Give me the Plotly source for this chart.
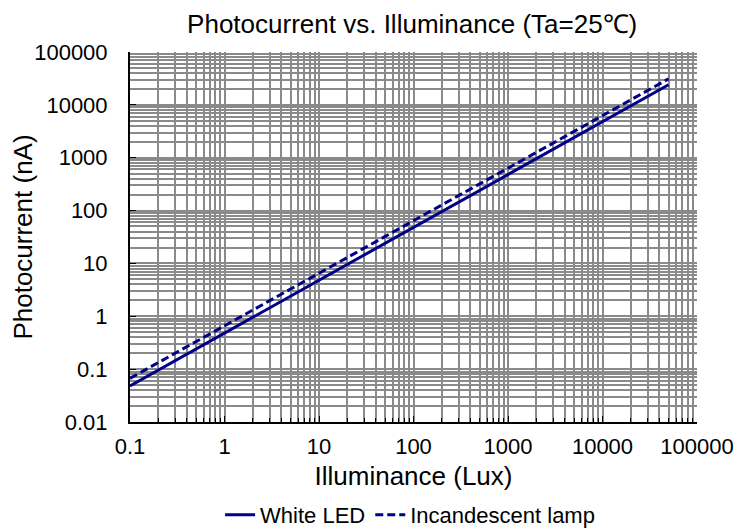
import plotly.graph_objects as go

illuminance = [0.1, 1, 10, 100, 1000, 10000, 50000]
white_led = [0.048, 0.48, 4.8, 48, 480, 4800, 24000]
incandescent = [0.067, 0.66, 6.5, 64, 630, 6200, 31000]

x_ticks = [0.1, 1, 10, 100, 1000, 10000, 100000]
x_ticktext = ["0.1", "1", "10", "100", "1000", "10000", "100000"]
y_ticks = [0.01, 0.1, 1, 10, 100, 1000, 10000, 100000]
y_ticktext = ["0.01", "0.1", "1", "10", "100", "1000", "10000", "100000"]

navy = "#000088"
grid = "#8a8a8a"

fig = go.Figure()
fig.add_trace(go.Scatter(x=illuminance, y=white_led, mode="lines", name="White LED",
                         line=dict(color=navy, width=3)))
fig.add_trace(go.Scatter(x=illuminance, y=incandescent, mode="lines", name="Incandescent lamp",
                         line=dict(color=navy, width=3, dash="8px,4px")))

font = "Liberation Sans, Arial, sans-serif"
# the page body adds an 8px offset, so the figure is sized to fit the window
fig.update_layout(
    width=743, height=524,
    margin=dict(l=122, r=54, t=44, b=110, autoexpand=False),
    paper_bgcolor="white", plot_bgcolor="white",
    font=dict(family=font, size=22, color="black"),
    title=dict(text="Photocurrent vs. Illuminance (Ta=25℃)", x=0.544, xanchor="center",
               y=0.97, yanchor="middle", font=dict(size=26)),
    showlegend=True,
    legend=dict(orientation="h", x=0.494, xanchor="center", y=-0.251, yanchor="middle",
                font=dict(size=22), tracegroupgap=0, bgcolor="rgba(0,0,0,0)"),
)
fig.update_xaxes(type="log", range=[-1, 5], tickvals=x_ticks, ticktext=x_ticktext,
                 automargin=False,
                 showgrid=True, gridcolor=grid, gridwidth=1.5,
                 showline=True, linecolor="black", linewidth=2,
                 ticks="inside", ticklen=6, tickcolor="black", ticklabelstandoff=4,
                 minor=dict(dtick="D1", showgrid=True, gridcolor=grid, gridwidth=1.5,
                            ticks="inside", ticklen=4, tickcolor="black"),
                 title=dict(text="Illuminance (Lux)", standoff=8), zeroline=False)
fig.update_yaxes(type="log", range=[-2, 5], tickvals=y_ticks, ticktext=y_ticktext,
                 automargin=False,
                 showgrid=True, gridcolor=grid, gridwidth=1.5,
                 showline=True, linecolor="black", linewidth=2,
                 ticks="inside", ticklen=6, tickcolor="black", ticklabelstandoff=16,
                 minor=dict(dtick="D1", showgrid=True, gridcolor=grid, gridwidth=1.5),
                 title=dict(text="Photocurrent (nA)", standoff=0), zeroline=False)

fig.write_html("out.html")
